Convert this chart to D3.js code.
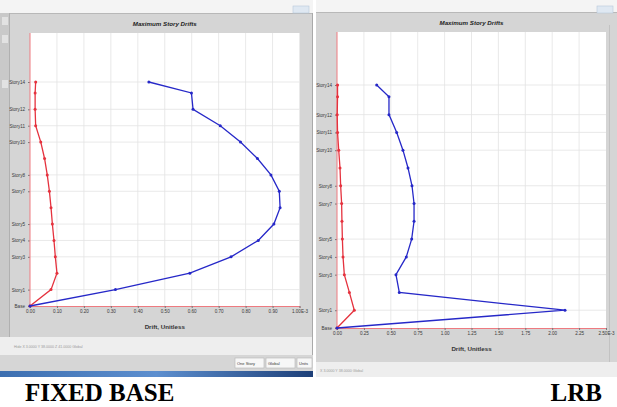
<!DOCTYPE html>
<html>
<head>
<meta charset="utf-8">
<script src="https://cdn.jsdelivr.net/npm/d3@7"></script>
<style>
  html, body { margin: 0; padding: 0; background: #fff; }
  svg { display: block; }
  .tiny { font-family: "Liberation Sans", Arial, sans-serif; fill: #3a3a3a; }
</style>
</head>
<body>
<div id="chart"></div>
<script>
// story levels, bottom to top
const stories = ["Base", "Story1", "Story2", "Story3", "Story4", "Story5", "Story6", "Story7",
                 "Story8", "Story9", "Story10", "Story11", "Story12", "Story13", "Story14"];
const storyElev = [0, 3, 6, 9, 12, 15, 18, 21, 24, 27, 30, 33, 36, 39, 41];
// ETABS skips some labels
const labeledStories = ["Base", "Story1", "Story3", "Story4", "Story5", "Story7", "Story8",
                        "Story10", "Story11", "Story12", "Story14"];

// fixed base drifts (x 1E-3)
const fixedDriftX = [0, 0.078, 0.100, 0.094, 0.089, 0.083, 0.078, 0.072, 0.064, 0.054, 0.040, 0.021, 0.019, 0.019, 0.021];
const fixedDriftY = [0, 0.317, 0.593, 0.746, 0.847, 0.905, 0.928, 0.925, 0.894, 0.844, 0.781, 0.706, 0.605, 0.599, 0.441];
const fixedTicks = [0, 0.1, 0.2, 0.3, 0.4, 0.5, 0.6, 0.7, 0.8, 0.9, 1.0];
const fixedTickLabels = ["0.00", "0.10", "0.20", "0.30", "0.40", "0.50", "0.60", "0.70", "0.80", "0.90", "1.00E-3"];

// LRB drifts (x 1E-3)
const lrbDriftX = [0, 0.161, 0.115, 0.068, 0.056, 0.050, 0.046, 0.043, 0.034, 0.028, 0.016, 0.005, 0.002, 0.005, 0.005];
const lrbDriftY = [0, 2.119, 0.579, 0.548, 0.644, 0.694, 0.716, 0.716, 0.697, 0.660, 0.613, 0.555, 0.483, 0.483, 0.369];
const lrbTicks = [0, 0.25, 0.5, 0.75, 1.0, 1.25, 1.5, 1.75, 2.0, 2.25, 2.5];
const lrbTickLabels = ["0.00", "0.25", "0.50", "0.75", "1.00", "1.25", "1.50", "1.75", "2.00", "2.25", "2.50E-3"];

const chartTitle = "Maximum Story Drifts";
const axisTitle = "Drift, Unitless";
const captions = ["FIXED BASE", "LRB"];

const W = 617, H = 407;
const svg = d3.select("#chart").append("svg").attr("width", W).attr("height", H);

svg.append("rect").attr("width", W).attr("height", H).attr("fill", "#fff");

const grad = svg.append("defs").append("linearGradient").attr("id", "taskbar")
    .attr("x1", 0).attr("x2", 1).attr("y1", 0).attr("y2", 0);
grad.append("stop").attr("offset", "0%").attr("stop-color", "#3d6fb0");
grad.append("stop").attr("offset", "50%").attr("stop-color", "#5d8fcf");
grad.append("stop").attr("offset", "100%").attr("stop-color", "#1d3f78");

// window frames (screenshot chrome)
function drawFrame(f) {
    svg.append("rect").attr("x", f.x0).attr("y", 0).attr("width", f.x1 - f.x0).attr("height", f.top)
        .attr("fill", "#f4f4f4");
    svg.append("rect").attr("x", f.x0).attr("y", f.top).attr("width", f.x1 - f.x0).attr("height", f.bottom - f.top)
        .attr("fill", "#d5d5d5");
    svg.append("line").attr("x1", f.x0).attr("x2", f.x1).attr("y1", f.top + 0.5).attr("y2", f.top + 0.5)
        .attr("stroke", "#b8b8b8");
    svg.append("rect").attr("x", f.x0).attr("y", f.bottom).attr("width", f.x1 - f.x0).attr("height", f.status)
        .attr("fill", "#eeeeee");
    // window buttons
    svg.append("rect").attr("x", f.x1 - 20).attr("y", 6).attr("width", 16).attr("height", 7)
        .attr("fill", "#dfe8f2").attr("stroke", "#b9c8da").attr("stroke-width", 0.6);
}

drawFrame({ x0: 0, x1: 313, top: 13, bottom: 337, status: 18 });
drawFrame({ x0: 316, x1: 617, top: 12, bottom: 362, status: 15 });

// left side strip of first screenshot
svg.append("rect").attr("x", 0).attr("y", 13).attr("width", 9).attr("height", 324).attr("fill", "#c9c9c9");
svg.append("line").attr("x1", 9.5).attr("x2", 9.5).attr("y1", 13).attr("y2", 337).attr("stroke", "#b0b0b0");
[17, 35, 80].forEach(y => svg.append("rect").attr("x", 2).attr("y", y).attr("width", 6).attr("height", 8).attr("fill", "#e2e2e2"));
svg.append("line").attr("x1", 312.5).attr("x2", 312.5).attr("y1", 13).attr("y2", 371).attr("stroke", "#a9a9a9");
svg.append("line").attr("x1", 609.5).attr("x2", 609.5).attr("y1", 25).attr("y2", 362).attr("stroke", "#c2c2c2");

// toolbar and taskbar below first screenshot
svg.append("rect").attr("x", 0).attr("y", 355).attr("width", 313).attr("height", 16).attr("fill", "#d6d6d6");
[[235, 29], [266, 29], [297, 15]].forEach(([x, w]) => {
    svg.append("rect").attr("x", x).attr("y", 358).attr("width", w).attr("height", 10)
        .attr("fill", "#f7f7f7").attr("stroke", "#b5b5b5").attr("stroke-width", 0.6);
});
[["One Story", 237], ["Global", 268], ["Units", 299]].forEach(([t, x]) => {
    svg.append("text").attr("class", "tiny").attr("x", x).attr("y", 365).attr("font-size", 4).text(t);
});
svg.append("rect").attr("x", 0).attr("y", 371).attr("width", 313).attr("height", 6).attr("fill", "url(#taskbar)");

// faint status bar text
svg.append("text").attr("class", "tiny").attr("x", 14).attr("y", 348).attr("font-size", 3.6)
    .style("fill", "#9a9a9a").text("Hide  X 3.0000   Y 38.0000   Z 41.0000  Global");
svg.append("text").attr("class", "tiny").attr("x", 320).attr("y", 372).attr("font-size", 3.6)
    .style("fill", "#9a9a9a").text("X 3.0000  Y 38.0000  Global");

function drawPanel(p) {
    const x = d3.scaleLinear().domain(p.xDomain).range([p.left, p.right]);
    const y = d3.scaleLinear().domain([0, d3.max(storyElev)]).range([p.bottom, p.topStory]);
    const g = svg.append("g");

    g.append("rect").attr("x", p.left).attr("y", p.top).attr("width", p.right - p.left)
        .attr("height", p.bottom - p.top).attr("fill", "#fff");

    // grid
    g.append("g").selectAll("line").data(p.ticks.slice(1, -1)).join("line")
        .attr("x1", d => x(d)).attr("x2", d => x(d)).attr("y1", p.top).attr("y2", p.bottom)
        .attr("stroke", "#e3e3e3").attr("stroke-width", 0.8);
    const labeled = stories.map((s, i) => ({ s, e: storyElev[i] })).filter(d => labeledStories.includes(d.s));
    g.append("g").selectAll("line").data(labeled.filter(d => d.e > 0)).join("line")
        .attr("x1", p.left).attr("x2", p.right).attr("y1", d => y(d.e)).attr("y2", d => y(d.e))
        .attr("stroke", "#e3e3e3").attr("stroke-width", 0.8);

    // axes
    const xAxis = d3.axisBottom(x).tickValues(p.ticks).tickFormat((d, i) => p.tickLabels[i]).tickSize(2);
    const xa = g.append("g").attr("transform", `translate(0,${p.bottom})`).call(xAxis);
    xa.select(".domain").attr("stroke", "#ee7a80");
    xa.selectAll(".tick line").attr("stroke", "#777");
    xa.selectAll("text").attr("class", "tiny").attr("font-size", 4.6).attr("dy", "0.5em");

    const yAxis = d3.axisLeft(y).tickValues(labeled.map(d => d.e))
        .tickFormat(e => labeled.find(d => d.e === e).s).tickSize(2);
    const ya = g.append("g").attr("transform", `translate(${p.left},0)`).call(yAxis);
    ya.select(".domain").remove();
    ya.selectAll(".tick line").attr("stroke", "#777");
    ya.selectAll("text").attr("class", "tiny").attr("font-size", 4.6);
    g.append("line").attr("x1", p.left).attr("x2", p.left).attr("y1", p.top).attr("y2", p.bottom)
        .attr("stroke", "#ee7a80").attr("stroke-width", 1);

    // titles
    g.append("text").attr("x", (p.left + p.right) / 2).attr("y", p.top - 7).attr("text-anchor", "middle")
        .attr("font-family", "Liberation Sans, Arial, sans-serif").attr("font-weight", "bold")
        .attr("font-style", "italic").attr("font-size", 6.2).attr("fill", "#222").text(chartTitle);
    g.append("text").attr("x", (p.left + p.right) / 2).attr("y", p.bottom + 23).attr("text-anchor", "middle")
        .attr("font-family", "Liberation Sans, Arial, sans-serif").attr("font-weight", "bold")
        .attr("font-size", 6.2).attr("fill", "#333").text(axisTitle);

    // series
    const line = d3.line().x(d => x(d.v)).y(d => y(d.e));
    [[p.driftX, "#e5323e"], [p.driftY, "#2628c8"]].forEach(([vals, col]) => {
        const pts = vals.map((v, i) => ({ v, e: storyElev[i] }));
        g.append("path").datum(pts).attr("d", line).attr("fill", "none")
            .attr("stroke", col).attr("stroke-width", 1.3);
        g.append("g").selectAll("circle").data(pts).join("circle")
            .attr("cx", d => x(d.v)).attr("cy", d => y(d.e)).attr("r", 1.5).attr("fill", col);
    });
}

drawPanel({
    left: 30, right: 299.5, top: 33, bottom: 306, topStory: 82,
    xDomain: [0, 1.0], ticks: fixedTicks, tickLabels: fixedTickLabels,
    driftX: fixedDriftX, driftY: fixedDriftY
});
drawPanel({
    left: 337, right: 606, top: 32, bottom: 328, topStory: 85,
    xDomain: [0, 2.5], ticks: lrbTicks, tickLabels: lrbTickLabels,
    driftX: lrbDriftX, driftY: lrbDriftY
});

// captions
svg.append("text").attr("x", 25).attr("y", 401)
    .attr("font-family", "Liberation Serif, Times New Roman, serif").attr("font-weight", "bold")
    .attr("font-size", 25).attr("fill", "#000").text(captions[0]);
svg.append("text").attr("x", 602).attr("y", 401).attr("text-anchor", "end")
    .attr("font-family", "Liberation Serif, Times New Roman, serif").attr("font-weight", "bold")
    .attr("font-size", 25).attr("fill", "#000").text(captions[1]);
</script>
</body>
</html>
